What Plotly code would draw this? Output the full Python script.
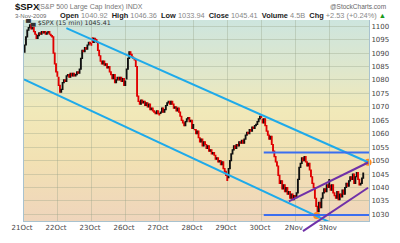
import plotly.graph_objects as go
import urllib.parse

# ---------------- data ----------------
days = ["21Oct", "22Oct", "23Oct", "26Oct", "27Oct", "28Oct", "29Oct", "30Oct", "2Nov", "3Nov"]
day_open = [1090.36, 1080.96, 1095.62, 1080.36, 1067.54, 1061.51, 1043.69, 1065.41, 1036.18, 1040.92]

c_21oct = [1093, 1096, 1098.5, 1099.5, 1100.5, 1099, 1099.5, 1098, 1097, 1095.5, 1096.5, 1097.5, 1097,
           1098, 1097.5, 1098, 1097, 1097.5, 1098, 1097, 1096.5, 1096, 1090, 1086, 1083, 1081.4]
c_22oct = [1078, 1075.5, 1076.5, 1079, 1080, 1079.5, 1081.5, 1082, 1081, 1082.5, 1081.5, 1082.5, 1081.5,
           1082, 1083, 1082.5, 1084, 1088, 1091, 1090.5, 1092, 1091.5, 1093, 1094, 1093.5, 1092.9]
c_23oct = [1094, 1095.5, 1095, 1094, 1091, 1089, 1087, 1086, 1087, 1085.5, 1086, 1084.5, 1085,
           1083, 1082, 1080.5, 1082, 1079, 1080, 1081, 1080, 1081, 1079.5, 1080.5, 1078, 1079.6]
c_26oct = [1084, 1088, 1090.5, 1089.5, 1088.5, 1088, 1087.5, 1085, 1074, 1072, 1071, 1072.5, 1071.5,
           1072, 1070.5, 1071.5, 1070, 1071, 1069, 1069.5, 1068.5, 1068, 1067.5, 1068.5, 1067.5, 1067]
c_27oct = [1068, 1069.5, 1068, 1069, 1070.5, 1071.5, 1072, 1071, 1072, 1071, 1069.5, 1070, 1068.5,
           1069.5, 1068, 1066.5, 1065, 1064, 1063, 1064.5, 1065.5, 1066, 1064.5, 1065, 1062, 1063.4]
c_28oct = [1061.5, 1060, 1061, 1058.5, 1057, 1058, 1055.5, 1057, 1056, 1054.5, 1055.5, 1053.5, 1054,
           1052.5, 1053, 1052, 1050.5, 1051, 1049.5, 1050, 1048.5, 1049.5, 1047, 1046, 1044.5, 1042.6]
c_29oct = [1047, 1050, 1052.5, 1054, 1055.5, 1054.5, 1056, 1055.5, 1057, 1056.5, 1057.5, 1056.5, 1058,
           1059.5, 1060.5, 1060, 1061.5, 1061, 1062.5, 1062, 1063, 1063.5, 1064.5, 1065.5, 1066.5, 1066.1]
c_30oct = [1064, 1065.5, 1063, 1061, 1059.5, 1058, 1059, 1056, 1053.5, 1051.5, 1049.5, 1048, 1044.5,
           1041.5, 1042.5, 1039.5, 1041, 1038.5, 1040, 1037.5, 1038.5, 1036, 1037.5, 1035.5, 1037, 1036.2]
c_2nov = [1038, 1043, 1047.5, 1049, 1051, 1050, 1051.5, 1049.5, 1048, 1049, 1046.5, 1044, 1041.5,
          1040, 1036, 1033, 1031, 1034.5, 1032.5, 1036, 1038, 1039.5, 1038.5, 1041, 1040, 1042.9]
c_3nov = [1039, 1041, 1038, 1037, 1036, 1038.5, 1035.5, 1037.5, 1036.5, 1039, 1037.5, 1040, 1041.5,
          1040.5, 1042.5, 1044, 1043, 1045, 1041.5, 1044, 1045.5, 1043, 1041, 1041.5, 1043.5, 1045.4]
day_closes = [c_21oct, c_22oct, c_23oct, c_26oct, c_27oct, c_28oct, c_29oct, c_30oct, c_2nov, c_3nov]

# trend-line annotations (bar index, price)
upper_channel = ([31.9, 262.7], [1099.3, 1049.4])
lower_channel = ([-0.5, 236.0], [1080.2, 1026.5])
resistance = ([182.9, 263.4], [1053.0, 1053.0])
support = ([182.9, 263.4], [1029.8, 1029.8])
purple_upper = ([202.1, 262.7], [1034.85, 1049.3])
purple_lower = ([212.9, 262.7], [1023.8, 1039.9])
pivot_dots = ([262.7, 223.4], [1049.4, 1029.6])

y_range = [1027.54, 1102.3]
x_range = [-0.5, 263.4]

# ---------------- build OHLC ----------------
xs, o, h, l, c = [], [], [], [], []
idx = 0
for d, closes in enumerate(day_closes):
    prev = day_open[d]
    for cl in closes:
        xs.append(idx)
        o.append(prev)
        c.append(cl)
        h.append(max(prev, cl))
        l.append(min(prev, cl))
        prev = cl
        idx += 1

fig = go.Figure()
fig.add_trace(go.Candlestick(
    x=xs, open=o, high=h, low=l, close=c,
    increasing=dict(line=dict(color="#111111", width=1.2), fillcolor="#111111"),
    decreasing=dict(line=dict(color="#e00000", width=1.2), fillcolor="#e00000"),
    whiskerwidth=0, showlegend=False, hoverinfo="skip",
))

CYAN = "#1eaaea"
BLUE = "#3b6ef0"
PURPLE = "#7030a8"

def seg(pts, color, width=2):
    fig.add_shape(type="line", xref="x", yref="y",
                  x0=pts[0][0], x1=pts[0][1], y0=pts[1][0], y1=pts[1][1],
                  line=dict(color=color, width=width), layer="above")

seg(upper_channel, CYAN)
seg(lower_channel, CYAN)
seg(resistance, BLUE)
seg(support, BLUE)
seg(purple_upper, PURPLE)

# lower purple line extends below the plot: map through axis ranges into paper coords
def xp(v):
    return (v - x_range[0]) / (x_range[1] - x_range[0])

def yp(v):
    return (v - y_range[0]) / (y_range[1] - y_range[0])

fig.add_shape(type="line", xref="paper", yref="paper",
              x0=xp(purple_lower[0][0]), x1=xp(purple_lower[0][1]),
              y0=yp(purple_lower[1][0]), y1=yp(purple_lower[1][1]),
              line=dict(color=PURPLE, width=2), layer="above")

fig.add_trace(go.Scatter(x=pivot_dots[0], y=pivot_dots[1], mode="markers",
                         marker=dict(color="#ff8a1c", size=7), cliponaxis=False,
                         showlegend=False, hoverinfo="skip"))

# gradient background
svg = ("<svg xmlns='http://www.w3.org/2000/svg' width='10' height='100' preserveAspectRatio='none'>"
       "<defs><linearGradient id='g' x1='0' y1='0' x2='0' y2='1'>"
       "<stop offset='0' stop-color='#cde5de'/>"
       "<stop offset='0.25' stop-color='#dfe7cc'/>"
       "<stop offset='0.45' stop-color='#f1e9b9'/>"
       "<stop offset='0.7' stop-color='#f2e1b3'/>"
       "<stop offset='1' stop-color='#efd5bc'/>"
       "</linearGradient></defs><rect width='10' height='100' fill='url(#g)'/></svg>")
fig.add_layout_image(dict(source="data:image/svg+xml;charset=utf-8," + urllib.parse.quote(svg),
                          xref="paper", yref="paper", x=0, y=1, sizex=1, sizey=1,
                          sizing="stretch", layer="below", xanchor="left", yanchor="top"))

ML, MR, MT, MB = 12, 28, 20, 11
PW, PH = 400 - ML - MR, 243 - MT - MB

def px(xpix):
    return (xpix - ML) / PW

def py(ypix):
    return (243 - MB - ypix) / PH

FONT = "DejaVu Sans"
SANS = "Liberation Sans"
ann = []
ann.append(dict(x=px(0), y=py(6), text="<b>$SPX</b>", font=dict(size=9.5, color="#111", family=SANS)))
ann.append(dict(x=px(25), y=py(6.5), text="(S&P 500 Large Cap Index) INDX",
                font=dict(size=7, color="#777", family=SANS)))
ann.append(dict(x=px(0), y=py(15.5), text="3-Nov-2009", font=dict(size=6, color="#666", family=SANS)))
hdr = ("<b>Open</b> <span style='color:#888'>1040.92</span>  <b>High</b> <span style='color:#888'>1046.36</span>  "
       "<b>Low</b> <span style='color:#888'>1033.94</span>  <b>Close</b> <span style='color:#888'>1045.41</span>  "
       "<b>Volume</b> <span style='color:#888'>4.5B</span>  <b>Chg</b> <span style='color:#888'>+2.53 (+0.24%)</span> "
       "<span style='color:#1a9a1a'>▲</span>")
ann.append(dict(x=px(392), y=py(15.5), text=hdr, xanchor="right",
                font=dict(size=7.4, color="#222", family=SANS)))
ann.append(dict(x=px(392), y=py(6), text="@StockCharts.com", xanchor="right",
                font=dict(size=6.5, color="#666", family=SANS)))
ann.append(dict(x=px(11), y=py(23.5), text="▀▄ $SPX (15 min) 1045.41",
                font=dict(size=6.3, color="#333", family=FONT)))
for a in ann:
    a.setdefault("xanchor", "left")
    a.update(xref="paper", yref="paper", yanchor="middle", showarrow=False)

GRID = "rgba(150,160,135,0.35)"
fig.update_layout(
    width=400, height=243, margin=dict(l=ML, r=MR, t=MT, b=MB),
    paper_bgcolor="white", plot_bgcolor="rgba(0,0,0,0)",
    annotations=ann, showlegend=False,
    xaxis=dict(range=x_range, tickvals=[26 * k - 0.5 for k in range(len(days))], ticktext=days,
               showgrid=True, gridcolor=GRID, gridwidth=1, zeroline=False,
               showline=True, linecolor="#a8c2cf", linewidth=1, ticks="",
               ticklabelshift=-2, ticklabelstandoff=0, ticklabeloverflow="allow",
               tickfont=dict(size=7, color="#444", family=FONT), rangeslider=dict(visible=False),
               fixedrange=True),
    yaxis=dict(range=y_range, side="right", tick0=1030, dtick=5, showgrid=True, gridcolor=GRID,
               zeroline=False, showline=True, mirror=True, linecolor="#a8c2cf", linewidth=1, ticks="",
               tickfont=dict(size=7, color="#444", family=FONT), fixedrange=True),
)

fig.write_html("out.html")
